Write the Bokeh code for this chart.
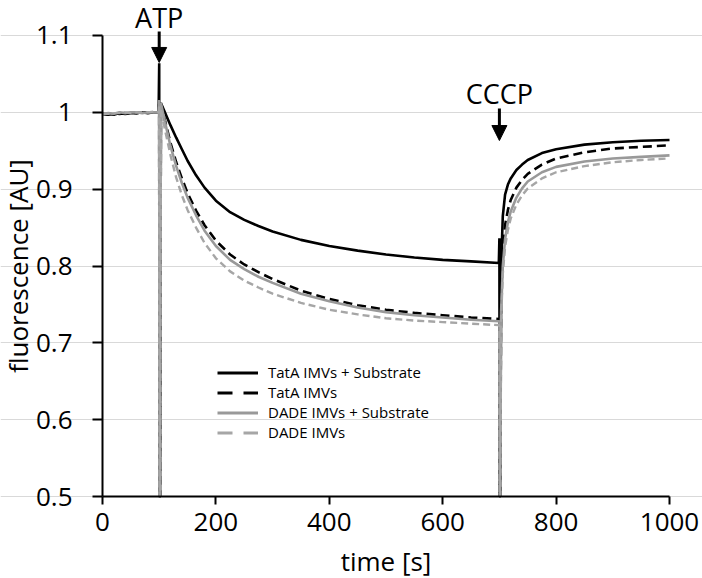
import math
from bokeh.plotting import figure
from bokeh.models import (Range1d, CustomJSTickFormatter, Legend, LegendItem,
                          Label, Arrow, NormalHead, ColumnDataSource)
from bokeh.embed import file_html
from bokeh.resources import INLINE

# ---------------- data ----------------
time_s = [0, 10, 20, 30, 40, 50, 60, 70, 80, 90,
          99, 100, 100.5, 101.5, 103,
          110, 120, 130, 140, 150,
          165, 180, 200, 225, 250,
          275, 300, 350, 400, 450,
          500, 550, 600, 650, 699,
          700, 700.5, 701.5, 703, 706,
          710, 715, 720, 730, 740,
          750, 775, 800, 850, 900,
          950, 1000]

# 0.5 = trace runs off the bottom of the scale
tata_substrate = [0.997, 0.998, 0.997, 0.999, 0.998, 0.999, 0.999, 1.000, 0.999, 1.000,
                  1.000, 1.064, 0.5, 0.5, 1.012,
                  1.000, 0.983, 0.967, 0.952, 0.937,
                  0.918, 0.902, 0.885, 0.870, 0.860,
                  0.852, 0.845, 0.834, 0.826, 0.820,
                  0.815, 0.811, 0.808, 0.806, 0.804,
                  0.836, 0.5, 0.5, 0.800, 0.865,
                  0.893, 0.906, 0.914, 0.925, 0.932,
                  0.938, 0.947, 0.952, 0.958, 0.961,
                  0.963, 0.964]

tata = [0.998, 0.997, 0.999, 0.998, 0.999, 1.000, 0.999, 1.000, 1.000, 1.000,
        1.000, 1.015, 0.5, 0.5, 1.010,
        0.990, 0.960, 0.935, 0.914, 0.895,
        0.872, 0.853, 0.833, 0.815, 0.802,
        0.792, 0.783, 0.768, 0.757, 0.749,
        0.743, 0.739, 0.736, 0.733, 0.731,
        0.731, 0.5, 0.5, 0.760, 0.820,
        0.853, 0.873, 0.886, 0.902, 0.912,
        0.920, 0.932, 0.940, 0.948, 0.953,
        0.955, 0.957]

dade_substrate = [0.997, 0.999, 0.998, 1.000, 0.999, 1.000, 1.000, 0.999, 1.000, 1.000,
                  1.000, 1.016, 0.5, 0.5, 1.012,
                  0.988, 0.956, 0.930, 0.908, 0.889,
                  0.866, 0.846, 0.826, 0.808, 0.796,
                  0.786, 0.778, 0.764, 0.754, 0.746,
                  0.740, 0.736, 0.733, 0.730, 0.728,
                  0.728, 0.5, 0.5, 0.740, 0.800,
                  0.835, 0.857, 0.871, 0.889, 0.901,
                  0.910, 0.922, 0.929, 0.936, 0.940,
                  0.942, 0.944]

dade = [0.998, 0.998, 0.999, 0.999, 1.000, 0.999, 1.000, 1.000, 1.000, 1.001,
        1.000, 1.010, 0.5, 0.5, 1.005,
        0.978, 0.944, 0.915, 0.892, 0.873,
        0.850, 0.830, 0.810, 0.793, 0.781,
        0.772, 0.764, 0.752, 0.743, 0.737,
        0.732, 0.729, 0.727, 0.725, 0.723,
        0.723, 0.5, 0.5, 0.730, 0.790,
        0.825, 0.847, 0.862, 0.880, 0.892,
        0.901, 0.914, 0.922, 0.930, 0.935,
        0.938, 0.940]

series_labels = ["TatA IMVs + Substrate", "TatA IMVs", "DADE IMVs + Substrate", "DADE IMVs"]
x_ticks = [0, 200, 400, 600, 800, 1000]
y_ticks = [0.5, 0.6, 0.7, 0.8, 0.9, 1.0, 1.1]
events = {"ATP": 100, "CCCP": 700}

FONT = "Open Sans"
W, H = 702, 578

# frame covers the whole canvas; axes are pinned at x=0 / y=0.5
p = figure(width=W, height=H, output_backend="svg", toolbar_location=None,
           x_range=Range1d(-179.894, 1058.2), y_range=Range1d(0.39328, 1.14555),
           min_border=0, min_border_left=0, min_border_right=0,
           min_border_top=0, min_border_bottom=0)
p.outline_line_color = None
p.background_fill_color = "white"
p.border_fill_color = "white"
p.xgrid.visible = False
p.ygrid.grid_line_color = "#d9d9d9"
p.ygrid.grid_line_width = 1
p.ygrid.bounds = (0, 1000)

p.xaxis.ticker = x_ticks
p.yaxis.ticker = y_ticks
p.yaxis.formatter = CustomJSTickFormatter(code="return tick.toFixed(1).replace(/\\.0$/, '');")
p.xaxis.fixed_location = 0.5
p.yaxis.fixed_location = 0
p.xaxis.bounds = (0, 1000)
p.yaxis.bounds = (0.5, 1.1)

for ax in (p.xaxis[0], p.yaxis[0]):
    ax.axis_line_color = "black"
    ax.axis_line_width = 2
    ax.major_tick_line_color = "black"
    ax.major_tick_line_width = 2
    ax.major_tick_in = 0
    ax.minor_tick_in = 0
    ax.minor_tick_out = 0
    ax.major_label_text_font = FONT
    ax.major_label_text_font_size = "26px"
    ax.major_label_text_color = "black"
p.xaxis.major_tick_out = 8
p.yaxis.major_tick_out = 10
p.xaxis.major_label_standoff = 8
p.yaxis.major_label_standoff = 20

src = ColumnDataSource(dict(t=time_s, a=tata_substrate, b=tata, c=dade_substrate, d=dade))

p.line("t", "a", source=src, line_color="black", line_width=2.6)
p.line("t", "b", source=src, line_color="black", line_width=2.6, line_dash="9 5")
p.line("t", "c", source=src, line_color="#999999", line_width=2.6)
p.line("t", "d", source=src, line_color="#a6a6a6", line_width=2.4, line_dash="7 4")

# legend proxies (legend dash pattern is longer than on the curves)
nan = float("nan")
proxy = ColumnDataSource(dict(t=[nan], v=[nan]))
g1 = p.line("t", "v", source=proxy, line_color="black", line_width=3)
g2 = p.line("t", "v", source=proxy, line_color="black", line_width=3, line_dash="15 11")
g3 = p.line("t", "v", source=proxy, line_color="#999999", line_width=3)
g4 = p.line("t", "v", source=proxy, line_color="#a6a6a6", line_width=3, line_dash="15 11")

legend = Legend(items=[LegendItem(label=lab, renderers=[r])
                       for lab, r in zip(series_labels, [g1, g2, g3, g4])],
                location=(217, 136), padding=0, margin=0, spacing=0,
                glyph_width=41, glyph_height=19, label_height=19, label_standoff=10,
                border_line_alpha=0, background_fill_alpha=0,
                label_text_font=FONT, label_text_font_size="15px",
                label_text_color="black")
p.add_layout(legend)

# axis titles
p.add_layout(Label(x=-149.0, y=0.8, text="fluorescence [AU]", angle=math.pi / 2,
                   text_align="center", text_baseline="middle",
                   text_font=FONT, text_font_size="26px", text_color="black"))
p.add_layout(Label(x=500, y=0.4167, text="time [s]",
                   text_align="center", text_baseline="middle",
                   text_font=FONT, text_font_size="26px", text_color="black"))

# event annotations
p.add_layout(Label(x=events["ATP"], y=1.1231, text="ATP", text_align="center",
                   text_baseline="middle", text_font=FONT, text_font_size="27px",
                   text_color="black"))
p.add_layout(Arrow(end=NormalHead(size=15, fill_color="black", line_color="black"),
                   x_start=events["ATP"], y_start=1.1052, x_end=events["ATP"], y_end=1.0649,
                   line_width=3, line_color="black"))
p.add_layout(Label(x=events["CCCP"], y=1.0245, text="CCCP", text_align="center",
                   text_baseline="middle", text_font=FONT, text_font_size="27px",
                   text_color="black"))
p.add_layout(Arrow(end=NormalHead(size=15, fill_color="black", line_color="black"),
                   x_start=events["CCCP"], y_start=1.005, x_end=events["CCCP"], y_end=0.9633,
                   line_width=3, line_color="black"))

open("out.html", "w").write(file_html(p, INLINE))
